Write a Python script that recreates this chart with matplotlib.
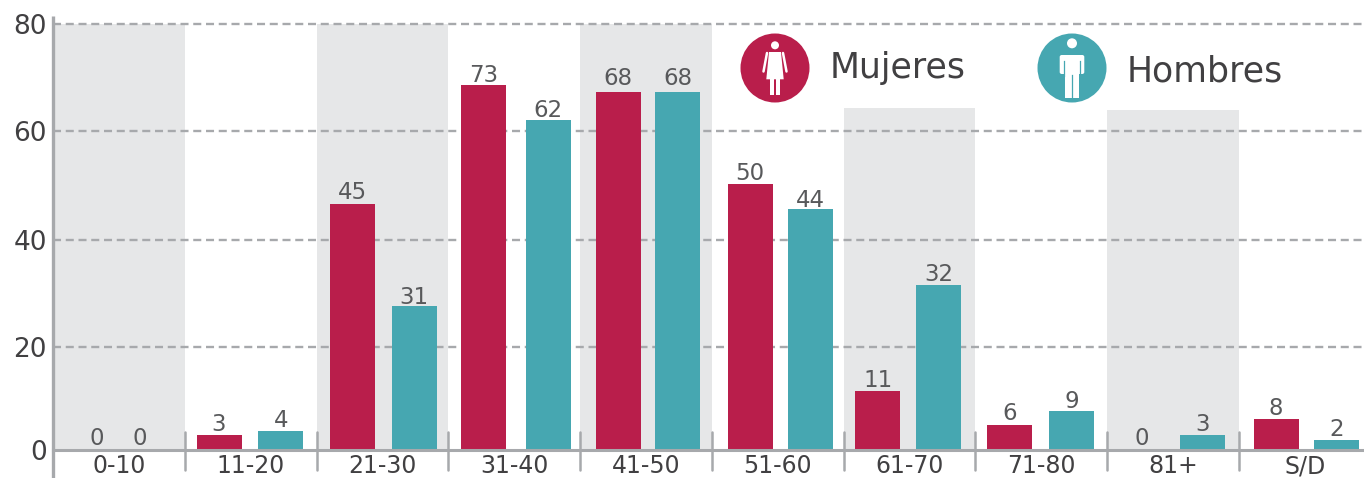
# -*- coding: utf-8 -*-
from matplotlib import pyplot as plt
from matplotlib.patches import Circle, Polygon, Rectangle, FancyBboxPatch

plt.rcParams['font.family'] = ['DejaVu Sans']

# data
groups = ['0-10', '11-20', '21-30', '31-40', '41-50', '51-60', '61-70', '71-80', '81+', 'S/D']
# printed numbers
women_labels = [0, 3, 45, 73, 68, 50, 11, 6, 0, 8]
men_labels = [0, 4, 31, 62, 68, 44, 32, 9, 3, 2]
# drawn bar heights, which differ a little from the printed numbers
women_heights = [0, 2.8, 46.2, 68.5, 67.2, 50, 11.1, 4.7, 0, 5.8]
men_heights = [0, 3.6, 27, 62, 67.2, 45.3, 31, 7.3, 2.8, 1.9]
# band heights behind the odd groups
band_groups = [0, 2, 4, 6, 8]
band_heights = [80, 80, 80, 64.2, 63.8]
# gridlines sit slightly off the regular scale in the source
grid_values = [19.4, 39.5, 59.9, 80]
y_labels = ['20', '40', '60', '80']

# bar centres inside each group, in group widths
women_offset = [0.33, 0.26, 0.27, 0.27, 0.29, 0.292, 0.26, 0.26, 0.26, 0.283]
men_offset = [0.66, 0.73, 0.742, 0.758, 0.74, 0.748, 0.72, 0.73, 0.728, 0.743]
# gap between bar top and its number, in pixels
women_gap = [5, 4, 5, 3, 7, 4, 4, 5, 5, 4]
men_gap = [5, 4, 2, 3, 7, 2, 4, 3, 4, 4]

RED = '#B91E4B'
TEAL = '#46A7B1'
BAND = '#E6E7E8'
LINE = '#A7A9AC'
DARK = '#414042'
MID = '#58595B'

W, H = 1364, 478
LEFT, BOTTOM, TOP = 53, 450, 16
GROUP = 131.75
PX_UNIT = 5.325

fig = plt.figure(figsize=(W / 100, H / 100), dpi=100)
ax = fig.add_axes([LEFT / W, (H - BOTTOM) / H, (W - LEFT) / W, (BOTTOM - TOP) / H])
ax.set_xlim(0, (W - LEFT) / GROUP)
ax.set_ylim(0, (BOTTOM - TOP) / PX_UNIT)

# shaded bands
for g, h in zip(band_groups, band_heights):
    ax.bar(g + 0.5, h, width=1.0, color=BAND, zorder=1)

# grid lines
for v in grid_values:
    ax.axhline(v, color=LINE, lw=1.7, dashes=(3.4, 2.0), zorder=2)

# bars and their numbers
bar_w = 45 / GROUP
for i in range(len(groups)):
    for pos, h, lab, gap, col in ((women_offset[i], women_heights[i], women_labels[i], women_gap[i], RED),
                                  (men_offset[i], men_heights[i], men_labels[i], men_gap[i], TEAL)):
        ax.bar(i + pos, h, width=bar_w, color=col, zorder=3)
        ax.annotate(str(lab), (i + pos, h), xytext=(0, gap * 0.72), textcoords='offset points',
                    ha='center', va='baseline', fontsize=16.5, color=MID, zorder=4,
                    annotation_clip=False)

# axis lines
for s in ax.spines.values():
    s.set_visible(False)
ax.plot([0, 0], [-28 / PX_UNIT, (BOTTOM - 16) / PX_UNIT], color=LINE, lw=2.4,
        clip_on=False, zorder=5, solid_capstyle='butt')
ax.axhline(0, color=LINE, lw=2.2, clip_on=False, zorder=5)
for i in range(1, len(groups)):
    ax.plot([i, i], [-20 / PX_UNIT, 18 / PX_UNIT], color=LINE, lw=1.8,
            clip_on=False, zorder=5, solid_capstyle='round')

# ticks
ax.set_xticks([i + 0.5 for i in range(len(groups))])
ax.set_xticklabels(groups, fontsize=17, color=DARK)
ax.tick_params(axis='x', length=0, pad=3.2)
ax.set_yticks([0] + grid_values)
ax.set_yticklabels(['0'] + y_labels, fontsize=19, color=DARK)
ax.tick_params(axis='y', length=0, pad=4.5)

# legend icons, drawn in picture pixels
over = fig.add_axes([0, 0, 1, 1], facecolor='none')
over.set_xlim(0, W)
over.set_ylim(H, 0)
over.axis('off')


def woman(cx, cy):
    over.add_patch(Circle((cx, cy), 34.5, color=RED, lw=0))
    over.add_patch(Circle((cx, cy - 22.7), 4, color='white', lw=0))
    over.add_patch(Polygon([(cx - 6, cy - 16), (cx + 6, cy - 16), (cx + 8.7, cy + 11.3),
                            (cx - 8.7, cy + 11.3)], color='white', lw=0))
    for sx in (-1, 1):
        over.plot([cx + sx * 8, cx + sx * 11.5], [cy - 15, cy + 3.5], color='white', lw=1.8,
                  solid_capstyle='round')
        over.add_patch(Rectangle((cx + sx * 3 - 2, cy + 11), 4, 15.5, color='white', lw=0))


def man(cx, cy):
    over.add_patch(Circle((cx, cy), 34.5, color=TEAL, lw=0))
    over.add_patch(Circle((cx, cy - 24.7), 5, color='white', lw=0))
    over.add_patch(FancyBboxPatch((cx - 10.3, cy - 11), 20.6, 15, color='white', lw=0,
                                  boxstyle='round,pad=2,rounding_size=2'))
    over.add_patch(Rectangle((cx - 7.3, cy - 10), 14.6, 39.5, color='white', lw=0))
    for sx in (-1, 1):
        over.plot([cx + sx * 8, cx + sx * 8], [cy - 7, cy + 8], color=TEAL, lw=0.9)
    over.plot([cx, cx], [cy + 7, cy + 31], color=TEAL, lw=0.9)


woman(775, 68)
man(1072, 68)
over.text(830, 78, 'Mujeres', fontsize=25, color=DARK, va='baseline', ha='left')
over.text(1127, 81, 'Hombres', fontsize=25, color=DARK, va='baseline', ha='left')

# save figure
plt.savefig('out.png', dpi=100)
